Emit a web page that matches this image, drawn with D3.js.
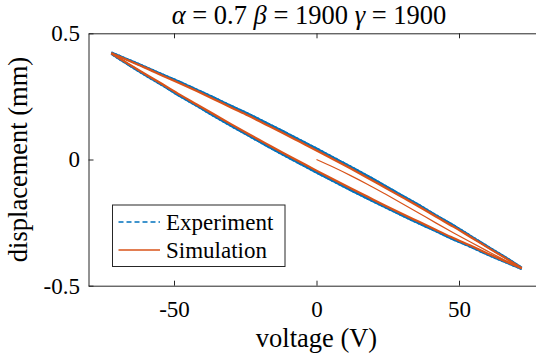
<!DOCTYPE html>
<html>
<head>
<meta charset="utf-8">
<script src="https://cdn.jsdelivr.net/npm/d3@7"></script>
<style>
  html, body { margin: 0; padding: 0; background: #fff; }
  svg { display: block; }
  svg text { font-family: "Liberation Serif", "Times New Roman", serif; }
</style>
</head>
<body>
<svg id="chart" width="536" height="360"></svg>
<script>
// Voltage grid (V) shared by all branches
const voltage = [-72,-66,-60,-54,-48,-42,-36,-30,-24,-18,-12,-6,0,6,12,18,24,30,36,42,48,54,60,66,72];

// Measured displacement (mm): descending-voltage branch and ascending-voltage branch
const expUpper = [0.423,0.395,0.366,0.336,0.307,0.276,0.245,0.212,0.181,0.147,0.113,0.078,0.043,0.007,-0.029,-0.066,-0.104,-0.143,-0.181,-0.222,-0.261,-0.303,-0.345,-0.386,-0.429];
const expLower = [0.419,0.376,0.334,0.294,0.252,0.213,0.173,0.134,0.096,0.058,0.021,-0.015,-0.051,-0.086,-0.121,-0.155,-0.188,-0.221,-0.253,-0.284,-0.316,-0.345,-0.376,-0.405,-0.433];

// Simulated displacement (mm)
const simUpper = [0.421,0.392,0.363,0.332,0.302,0.271,0.239,0.206,0.174,0.140,0.106,0.071,0.036,0.000,-0.036,-0.073,-0.111,-0.149,-0.187,-0.227,-0.266,-0.307,-0.348,-0.389,-0.431];
const simLower = [0.421,0.379,0.338,0.298,0.257,0.218,0.179,0.140,0.102,0.065,0.028,-0.008,-0.044,-0.079,-0.114,-0.148,-0.182,-0.215,-0.247,-0.279,-0.311,-0.341,-0.372,-0.402,-0.431];
// Initial loading curve from rest
const initVoltage = [0,6,12,18,24,30,36,42,48,54,60,66,72];
const simInitial = [0,-0.031,-0.064,-0.099,-0.136,-0.174,-0.213,-0.252,-0.290,-0.327,-0.363,-0.398,-0.431];

const xTicks = [-50, 0, 50];
const yTicks = [-0.5, 0, 0.5];
const legendLabels = ["Experiment", "Simulation"];
const colors = { exp: "#0072BD", sim: "#D95319", axis: "#262626" };
const fontFamily = "'Liberation Serif', 'Times New Roman', serif";

const svg = d3.select("#chart");
const x = d3.scaleLinear().domain([-80, 80]).range([88.5, 544.5]);
const y = d3.scaleLinear().domain([-0.5, 0.5]).range([285.7, 33.3]);

const pairs = (xs, ys) => xs.map((v, i) => [v, ys[i]]);
const line = d3.line().x(d => x(d[0])).y(d => y(d[1])).curve(d3.curveCatmullRom.alpha(0.5));

const plot = svg.append("g");

// Experiment: two passes around the loop, dashed
[expUpper, expLower].forEach((vals, k) => {
  [0, 1].forEach(pass => {
    plot.append("path").attr("d", line(pairs(voltage, vals)))
      .attr("fill", "none").attr("stroke", colors.exp).attr("stroke-width", 2.5)
      .attr("stroke-dasharray", "6,2").attr("stroke-dashoffset", pass * 4 + k * 2);
  });
});

// Simulation: initial curve, then the hysteresis loop
plot.append("path").attr("d", line(pairs(initVoltage, simInitial)))
  .attr("fill", "none").attr("stroke", colors.sim).attr("stroke-width", 1.2);
[simUpper, simLower].forEach(vals => {
  plot.append("path").attr("d", line(pairs(voltage, vals)))
    .attr("fill", "none").attr("stroke", colors.sim).attr("stroke-width", 2.2);
});

// Axes
const tickFont = 23;
const gx = svg.append("g").attr("transform", `translate(0,${y(-0.5)})`)
  .call(d3.axisBottom(x).tickValues(xTicks).tickSizeInner(-5).tickSizeOuter(0).tickPadding(14.5));
const gxTop = svg.append("g").attr("transform", `translate(0,${y(0.5)})`)
  .call(d3.axisTop(x).tickValues(xTicks).tickSizeInner(-5).tickSizeOuter(0).tickFormat(""));
const gy = svg.append("g").attr("transform", `translate(${x(-80)},0)`)
  .call(d3.axisLeft(y).tickValues(yTicks).tickSizeInner(-5).tickSizeOuter(0).tickPadding(8.5));

[gx, gxTop, gy].forEach(g => {
  g.attr("font-family", fontFamily).attr("font-size", tickFont);
  g.selectAll(".domain").attr("stroke", colors.axis).attr("stroke-width", 1);
  g.selectAll(".tick line").attr("stroke", colors.axis).attr("stroke-width", 1);
  g.selectAll("text").attr("fill", "#000");
});
// Plain hyphen for negatives
gx.selectAll(".tick text").text(d => d < 0 ? "-" + Math.abs(d) : String(d));
gy.selectAll(".tick text").text(d => d < 0 ? "-" + Math.abs(d) : String(d));

// Axis labels
svg.append("text").attr("x", x(0)).attr("y", 346.5).attr("text-anchor", "middle")
  .attr("font-size", 26.5).text("voltage (V)");
svg.append("text").attr("transform", `translate(27,${y(0)}) rotate(-90)`)
  .attr("text-anchor", "middle").attr("font-size", 26.5).text("displacement (mm)");

// Title
const title = svg.append("text").attr("x", 309).attr("y", 24).attr("text-anchor", "middle")
  .attr("font-size", 26.5);
[["α", true], [" = 0.7 ", false], ["β", true], [" = 1900 ", false], ["γ", true], [" = 1900", false]]
  .forEach(([t, it]) => title.append("tspan").attr("font-style", it ? "italic" : "normal").text(t));

// Legend
const lg = svg.append("g");
lg.append("rect").attr("x", 112.5).attr("y", 205).attr("width", 172.5).attr("height", 61.5)
  .attr("fill", "#fff").attr("stroke", colors.axis).attr("stroke-width", 1);
const rows = [
  { label: legendLabels[0], color: colors.exp, dash: "5,3", cy: 222 },
  { label: legendLabels[1], color: colors.sim, dash: null, cy: 250 }
];
rows.forEach(r => {
  lg.append("line").attr("x1", 118.5).attr("x2", 160).attr("y1", r.cy).attr("y2", r.cy)
    .attr("stroke", r.color).attr("stroke-width", 1.5).attr("stroke-dasharray", r.dash);
  lg.append("text").attr("x", 166).attr("y", r.cy + 7.5).attr("font-size", tickFont).text(r.label);
});
</script>
</body>
</html>
